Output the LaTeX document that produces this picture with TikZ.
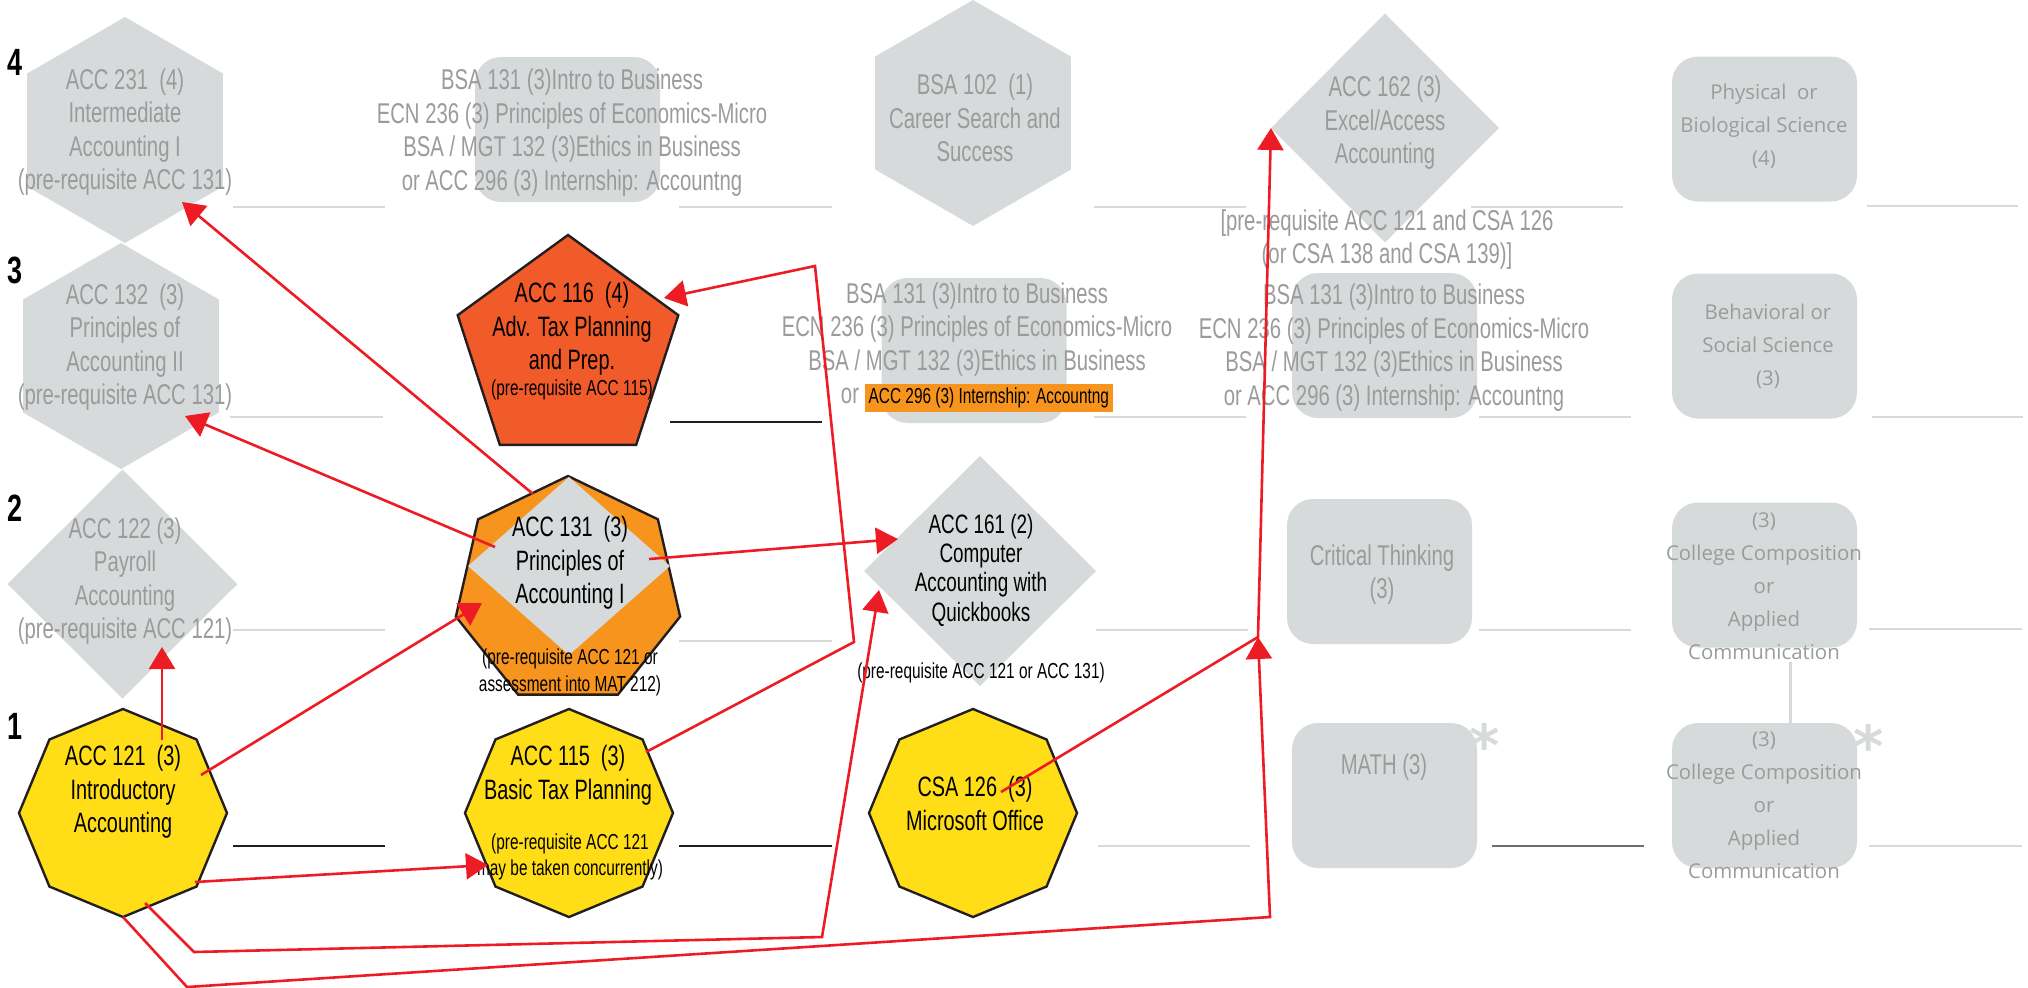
\documentclass[tikz,border=0pt]{standalone}
\usepackage{fontspec}
\setmainfont{Liberation Sans}[FakeStretch=0.71]
\newfontfamily\widefont{Open Sans}
\newfontfamily\starfont{DejaVu Sans}
\usetikzlibrary{shapes.geometric,arrows.meta}
\definecolor{shapegray}{RGB}{215,218,219}
\definecolor{txtgray}{RGB}{155,155,155}
\definecolor{ruleblack}{RGB}{35,31,32}
\definecolor{ruledark}{RGB}{109,110,113}
\definecolor{accyellow}{RGB}{255,222,23}
\definecolor{accorange}{RGB}{247,148,29}
\definecolor{accred}{RGB}{241,90,41}
\definecolor{linkred}{RGB}{237,28,36}
\setlength{\fboxsep}{2pt}
\begin{document}
\begin{tikzpicture}[x=0.5pt,y=-0.5pt,
  rownum/.style={font=\bfseries\fontsize{19}{19}\selectfont,inner sep=0pt},
  greyhex/.style={regular polygon,regular polygon sides=6,shape border rotate=30,fill=shapegray,minimum size=113pt,inner sep=0pt,outer sep=0pt},
  greydiam/.style={diamond,fill=shapegray,inner sep=0pt,outer sep=0pt},
  greybox/.style={rectangle,rounded corners=13pt,fill=shapegray,minimum width=92.5pt,minimum height=72.5pt,inner sep=0pt},
  course/.style={regular polygon,draw=ruleblack,line width=1.2pt,inner sep=0pt,outer sep=0pt},
  octa/.style={course,regular polygon sides=8,shape border rotate=22.5,fill=accyellow,minimum size=104pt},
  greytext/.style={text=txtgray,align=center,inner sep=0pt,font=\fontsize{14.3}{16.75}\selectfont},
  blacktext/.style={text=black,align=center,inner sep=0pt,font=\fontsize{14}{16.75}\selectfont},
  smalltext/.style={text=black,align=center,inner sep=0pt,font=\fontsize{10.85}{13.25}\selectfont},
  widetext/.style={text=txtgray,align=center,inner sep=0pt,font=\widefont\fontsize{10.2}{16.5}\selectfont},
  starmark/.style={text=shapegray,inner sep=0pt,font=\starfont\bfseries\fontsize{29}{29}\selectfont},
  greyrule/.style={shapegray,line width=1.3pt},
  blackrule/.style={ruleblack,line width=1.3pt},
  prereq/.style={linkred,line width=1.3pt,-{Triangle[length=11pt,width=13pt]}}]
\useasboundingbox (0,0) rectangle (2028,987);

% the semester numbers
\foreach \n/\y in {4/62,3/270,2/508,1/726}
  \node[rownum] (row\n) at (15,\y) {\n};

% the blanks for the grades
\foreach \xa/\xb/\y in {233/385/207,679/832/207,1094/1246/207,1471/1623/207,1867/2018/206,
                        230/383/417,1094/1246/417,1479/1631/417,1872/2023/417,
                        233/385/630,679/832/641,1096/1248/630,1479/1631/630,1869/2022/629,
                        1098/1250/846,1869/2022/846}
  \draw[greyrule] (\xa,\y) -- (\xb,\y);
\foreach \xa/\xb/\y in {670/822/422,233/385/846,679/832/846}
  \draw[blackrule] (\xa,\y) -- (\xb,\y);
\draw[ruledark, line width=0.6pt] (1492,846) -- (1644,846);

% first column
\node[greyhex] (acc231) at (125,130) {};
\node[greytext] (acc231txt) at (125,132) {ACC 231 \ (4)\\Intermediate\\Accounting I\\(pre-requisite ACC 131)};
\node[greyhex] (acc132) at (121,356) {};
\node[greytext] (acc132txt) at (125,347) {ACC 132 \ (3)\\Principles of\\Accounting II\\(pre-requisite ACC 131)};
\node[greydiam, minimum width=115pt, minimum height=114.5pt] (acc122) at (122.5,584) {};
\node[greytext] (acc122txt) at (125,581) {ACC 122 (3)\\Payroll\\Accounting\\(pre-requisite ACC 121)};
\node[octa] (acc121) at (123,813) {};
\node[blacktext] (acc121txt) at (123,792) {ACC 121 \ (3)\\Introductory\\Accounting};

% second column
\node[greybox] (bsa131a) at (567.5,129.5) {};
\node[greytext] (bsa131atxt) at (572,132.5) {BSA 131 (3)Intro to Business\\ECN 236 (3) Principles of Economics-Micro\\BSA / MGT 132 (3)Ethics in Business\\or ACC 296 (3) Internship: Accountng};
\node[course, regular polygon sides=5, fill=accred, minimum size=116pt] (acc116) at (568,351) {};
\node[blacktext] (acc116txt) at (572,329) {ACC 116 \ (4)\\Adv. Tax Planning\\and Prep.};
\node[smalltext] (acc116pre) at (572,390) {(pre-requisite ACC 115)};
\node[course, regular polygon sides=7, fill=accorange, minimum size=115pt] (acc131) at (568,591) {};
\node[greydiam, minimum width=101pt, minimum height=89pt] (acc131in) at (569,566) {};
\node[blacktext] (acc131txt) at (570,563) {ACC 131 \ (3)\\Principles of\\Accounting I};
\node[smalltext] (acc131pre) at (570,672.5) {(pre-requisite ACC 121 or\\assessment into MAT 212)};
\node[octa] (acc115) at (569,813) {};
\node[blacktext] (acc115txt) at (568,775) {ACC 115 \ (3)\\Basic Tax Planning};
\node[smalltext] (acc115pre) at (570,857) {(pre-requisite ACC 121\\may be taken concurrently)};

% third column
\node[greyhex] (bsa102) at (973,113) {};
\node[greytext] (bsa102txt) at (975,118) {BSA 102 \ (1)\\Career Search and\\Success};
\node[greybox] (bsa131b) at (974,350.5) {};
\node[greytext] (bsa131btxt) at (977,347.5) {BSA 131 (3)Intro to Business\\ECN 236 (3) Principles of Economics-Micro\\BSA / MGT 132 (3)Ethics in Business\\or \colorbox{accorange}{\fontsize{10.85}{12}\selectfont\color{black}ACC 296 (3) Internship: Accountng}};
\node[greydiam, minimum width=116pt, minimum height=115pt] (acc161) at (980,571) {};
\node[blacktext, font=\fontsize{13.3}{14.7}\selectfont] (acc161txt) at (981,570) {ACC 161 (2)\\Computer\\Accounting with\\Quickbooks};
\node[smalltext] (acc161pre) at (981,673) {(pre-requisite ACC 121 or ACC 131)};
\node[octa] (csa126) at (973,813) {};
\node[blacktext] (csa126txt) at (975,803.5) {CSA 126 \ (3)\\Microsoft Office};

% fourth column
\node[greydiam, minimum width=114pt, minimum height=114.5pt] (acc162) at (1385,128) {};
\node[greytext] (acc162txt) at (1385,123) {ACC 162 (3)\\Excel/Access\\Accounting};
\node[greytext] (acc162pre) at (1387,239.5) {[pre-requisite ACC 121 and CSA 126\\(or CSA 138 and CSA 139)]};
\node[greybox] (bsa131c) at (1384.5,345.5) {};
\node[greytext] (bsa131ctxt) at (1394,347.5) {BSA 131 (3)Intro to Business\\ECN 236 (3) Principles of Economics-Micro\\BSA / MGT 132 (3)Ethics in Business\\or ACC 296 (3) Internship: Accountng};
\node[greybox] (critical) at (1379.5,571.5) {};
\node[greytext] (criticaltxt) at (1382,574.5) {Critical Thinking\\(3)};
\node[greybox] (math) at (1384.5,795.5) {};
\node[greytext] (mathtxt) at (1384,767) {MATH (3)};
\node[starmark] (mathstar) at (1485,745) {*};

% fifth column
\node[greybox] (physical) at (1764.5,129) {};
\node[widetext] (physicaltxt) at (1764,126) {Physical \ or\\Biological Science\\(4)};
\node[greybox] (behavioral) at (1764.5,346) {};
\node[widetext] (behavioraltxt) at (1768,346) {Behavioral or\\Social Science\\(3)};
\node[greybox] (comp1) at (1764.5,575) {};
\node[widetext] (comp1txt) at (1764,586) {(3)\\College Composition\\or\\Applied\\Communication};
\node[greybox] (comp2) at (1764.5,795.5) {};
\node[widetext] (comp2txt) at (1764,805) {(3)\\College Composition\\or\\Applied\\Communication};
\node[starmark] (compstar) at (1869,746) {*};
\draw[shapegray, line width=1.5pt] ([shift={(26,14)}]comp1.south) -- ([shift={(26,0)}]comp2.north);

% the pre-requisite arrows
\coordinate (merge) at (1258,637);
\draw[prereq] ([shift={(39,-73)}]acc121.center) -- ([shift={(39.5,63)}]acc122.center);
\draw[prereq] ([shift={(78,-38)}]acc121.center) -- ([shift={(-86,12)}]acc131.center);
\draw[prereq] ([shift={(72,69)}]acc121.center) -- ([shift={(-81,52)}]acc115.center);
\draw[prereq] ([shift={(22,90)}]acc121.center) -- (194,952) -- (822,937) -- ([shift={(-101,19)}]acc161.center);
\draw[prereq] ([shift={(0,104)}]acc121.center) -- (187,987) -- (1270,917) -- (merge);
\draw[prereq] ([shift={(28,-21)}]csa126.center) -- (merge) -- (acc162.west);
\draw[prereq] ([shift={(81,-32)}]acc131.center) -- ([shift={(-82,-32)}]acc161.center);
\draw[prereq] ([shift={(-35,-97)}]acc131.center) -- ([shift={(57,72)}]acc231.center);
\draw[prereq] ([shift={(-73,-44)}]acc131.center) -- ([shift={(64,60)}]acc132.center);
\draw[prereq] ([shift={(77,-61)}]acc115.center) -- (854,642) -- (815,266) -- ([shift={(96,-53)}]acc116.center);
\end{tikzpicture}
\end{document}
